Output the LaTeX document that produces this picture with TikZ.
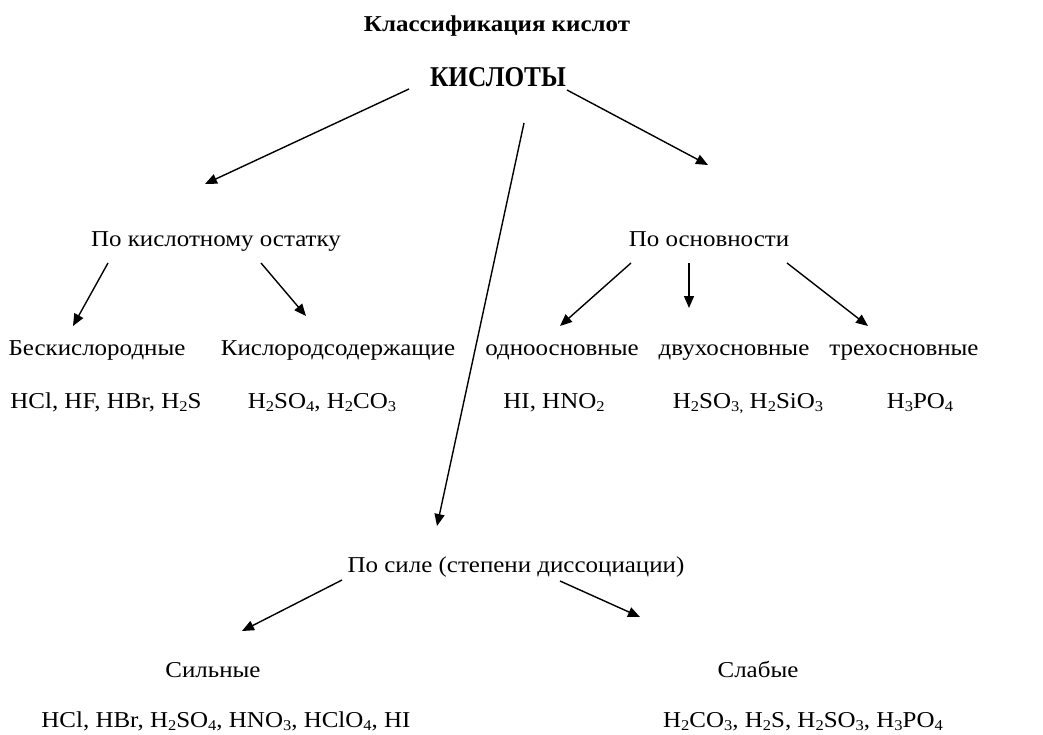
\documentclass[tikz,border=0pt]{standalone}
\usepackage{fontspec}
\setmainfont{Liberation Serif}[FakeStretch=1.1]
\usetikzlibrary{arrows.meta}
\newcommand\subs[1]{\raisebox{-3pt}{\fontsize{15}{15}\selectfont #1}}
\tikzset{
  txt/.style={anchor=base, inner sep=0pt, font=\fontsize{22.7}{26}\selectfont},
  ttl/.style={anchor=base, inner sep=0pt, font=\fontsize{22.7}{26}\selectfont\bfseries},
  big/.style={anchor=base, inner sep=0pt, font=\fontsize{28.7}{32}\selectfont\bfseries},
  arr/.style={line width=1.4pt, -{Triangle[length=12pt,width=10pt]}}
}
\begin{document}
\begin{tikzpicture}[x=1pt,y=-1pt]
\useasboundingbox (0,0) rectangle (1043,735);
% texts
\node[ttl] (title) at (497,32) {Классификация кислот};
\node[big] (acids) at (498,87) {\scalebox{0.8}[1]{КИСЛОТЫ}};
\node[txt] (rest) at (216,247) {По кислотному остатку};
\node[txt] (basic) at (709,247) {По основности};
\node[txt] (anox) at (97,355) {Бескислородные};
\node[txt] (oxy) at (338,355) {Кислородсодержащие};
\node[txt] (mono) at (562,355) {одноосновные};
\node[txt] (di) at (734,355) {двухосновные};
\node[txt] (tri) at (904,355) {трехосновные};
\node[txt] (fanox) at (106,408) {HCl, HF, HBr, H\subs{2}S};
\node[txt] (foxy) at (322,408) {H\subs{2}SO\subs{4}, H\subs{2}CO\subs{3}};
\node[txt] (fmono) at (554,408) {HI, HNO\subs{2}};
\node[txt] (fdi) at (748,408) {H\subs{2}SO\subs{3,} H\subs{2}SiO\subs{3}};
\node[txt] (ftri) at (920,408) {H\subs{3}PO\subs{4}};
\node[txt] (force) at (516,572) {По силе (степени диссоциации)};
\node[txt] (strong) at (213,677) {Сильные};
\node[txt] (weak) at (758,677) {Слабые};
\node[txt] (fstrong) at (226,727) {HCl, HBr, H\subs{2}SO\subs{4}, HNO\subs{3}, HClO\subs{4}, HI};
\node[txt] (fweak) at (803,727) {H\subs{2}CO\subs{3}, H\subs{2}S, H\subs{2}SO\subs{3}, H\subs{3}PO\subs{4}};
% arrow ends
\coordinate (a1s) at (409,89);  \coordinate (a1e) at (205,184);
\coordinate (a2s) at (567,90);  \coordinate (a2e) at (708,165);
\coordinate (a3s) at (524,123); \coordinate (a3e) at (437,526);
\coordinate (a4s) at (108,263); \coordinate (a4e) at (73,326);
\coordinate (a5s) at (261,263); \coordinate (a5e) at (306,316);
\coordinate (a6s) at (631,263); \coordinate (a6e) at (560,326);
\coordinate (a7s) at (689,263); \coordinate (a7e) at (689,308);
\coordinate (a8s) at (787,263); \coordinate (a8e) at (868,326);
\coordinate (a9s) at (342,580); \coordinate (a9e) at (242,631);
\coordinate (a10s) at (560,581); \coordinate (a10e) at (640,617);
% arrows
\draw[arr] (a1s) -- (a1e);
\draw[arr] (a2s) -- (a2e);
\draw[arr] (a3s) -- (a3e);
\draw[arr] (a4s) -- (a4e);
\draw[arr] (a5s) -- (a5e);
\draw[arr] (a6s) -- (a6e);
\draw[arr] (a7s) -- (a7e);
\draw[arr] (a8s) -- (a8e);
\draw[arr] (a9s) -- (a9e);
\draw[arr] (a10s) -- (a10e);
\end{tikzpicture}
\end{document}
